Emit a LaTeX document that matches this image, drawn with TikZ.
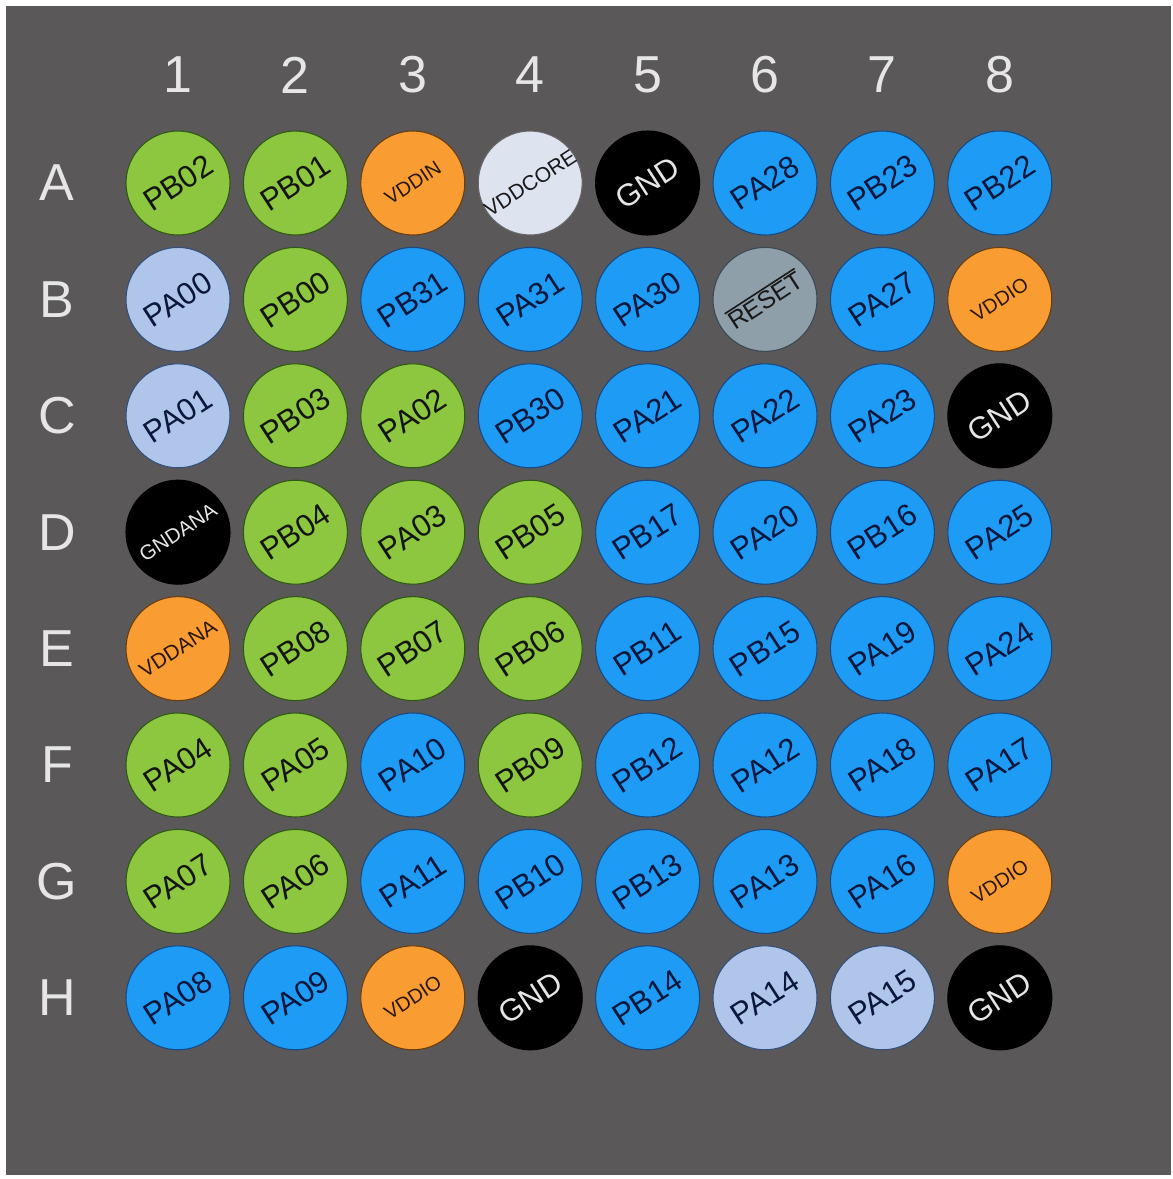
\documentclass[tikz,border=0pt]{standalone}
\usepackage{fontspec}
\setmainfont{Liberation Sans}
\definecolor{bgc}{HTML}{5B585A}
\definecolor{gfill}{HTML}{8DC63F}
\definecolor{gdraw}{HTML}{2F5A14}
\definecolor{bfill}{HTML}{1E9BF5}
\definecolor{bdraw}{HTML}{174A84}
\definecolor{btext}{HTML}{0A163A}
\definecolor{ofill}{HTML}{F99D33}
\definecolor{odraw}{HTML}{6A3E10}
\definecolor{otext}{HTML}{2A170A}
\definecolor{lfill}{HTML}{AFC6EA}
\definecolor{ldraw}{HTML}{34507A}
\definecolor{wfill}{HTML}{DDE3EF}
\definecolor{rfill}{HTML}{8E9FAA}
\definecolor{rdraw}{HTML}{3A4A55}
\definecolor{labc}{HTML}{E6E6E6}
\newcommand{\rstbar}[1]{\vbox{\hrule height 1.6pt\kern 2pt\hbox{#1}}}
\newcommand{\zw}[1]{\makebox[0pt]{#1}}
\tikzset{
  pin/.style={circle,minimum size=104pt,inner sep=0pt,line width=1.1pt,rotate=33,
    font=\fontsize{31}{31}\selectfont},
  pg/.style={pin,fill=gfill,draw=gdraw,text=black!92},
  pb/.style={pin,fill=bfill,draw=bdraw,text=btext},
  pl/.style={pin,fill=lfill,draw=ldraw,text=btext},
  pk/.style={pin,fill=black,draw=black,text=labc},
  po/.style={pin,fill=ofill,draw=odraw,text=otext,font=\fontsize{20}{20}\selectfont},
  pw/.style={pin,fill=wfill,draw=black!60,text=black!90,font=\fontsize{21}{21}\selectfont},
  pr/.style={pin,fill=rfill,draw=rdraw,text=black!90,font=\fontsize{25}{25}\selectfont},
  pkS/.style={pk,font=\fontsize{20.5}{20.5}\selectfont},
  poS/.style={po,font=\fontsize{21}{21}\selectfont},
  axislab/.style={text=labc,font=\fontsize{52}{52}\selectfont,inner sep=0pt}
}
\begin{document}
\begin{tikzpicture}[x=1pt,y=-1pt]
\useasboundingbox (0,0) rectangle (1173,1179);
\fill[white] (0,0) rectangle (1173,1179);
\fill[bgc] (6,6) rectangle (1171,1175);
\foreach \n [count=\i] in {1,...,8}
  \node[axislab] (col\n) at ({178+117.4*(\i-1)},75) {\n};
\foreach \r [count=\j] in {A,B,C,D,E,F,G,H}
  \node[axislab] (row\r) at (57,{183+116.4*(\j-1)}) {\r};
\foreach \t/\s [count=\i] in {PB02/pg,PB01/pg,VDDIN/po,{\zw{VDDCORE}}/pw,GND/pk,PA28/pb,PB23/pb,PB22/pb}
  \node[\s] (pinA\i) at ({178+117.4*(\i-1)},183) {\t};
\foreach \t/\s [count=\i] in {PA00/pl,PB00/pg,PB31/pb,PA31/pb,PA30/pb,{\rstbar{RESET}}/pr,PA27/pb,VDDIO/po}
  \node[\s] (pinB\i) at ({178+117.4*(\i-1)},299.4) {\t};
\foreach \t/\s [count=\i] in {PA01/pl,PB03/pg,PA02/pg,PB30/pb,PA21/pb,PA22/pb,PA23/pb,GND/pk}
  \node[\s] (pinC\i) at ({178+117.4*(\i-1)},415.8) {\t};
\foreach \t/\s [count=\i] in {GNDANA/pkS,PB04/pg,PA03/pg,PB05/pg,PB17/pb,PA20/pb,PB16/pb,PA25/pb}
  \node[\s] (pinD\i) at ({178+117.4*(\i-1)},532.2) {\t};
\foreach \t/\s [count=\i] in {VDDANA/poS,PB08/pg,PB07/pg,PB06/pg,PB11/pb,PB15/pb,PA19/pb,PA24/pb}
  \node[\s] (pinE\i) at ({178+117.4*(\i-1)},648.6) {\t};
\foreach \t/\s [count=\i] in {PA04/pg,PA05/pg,PA10/pb,PB09/pg,PB12/pb,PA12/pb,PA18/pb,PA17/pb}
  \node[\s] (pinF\i) at ({178+117.4*(\i-1)},765) {\t};
\foreach \t/\s [count=\i] in {PA07/pg,PA06/pg,PA11/pb,PB10/pb,PB13/pb,PA13/pb,PA16/pb,VDDIO/po}
  \node[\s] (pinG\i) at ({178+117.4*(\i-1)},881.4) {\t};
\foreach \t/\s [count=\i] in {PA08/pb,PA09/pb,VDDIO/po,GND/pk,PB14/pb,PA14/pl,PA15/pl,GND/pk}
  \node[\s] (pinH\i) at ({178+117.4*(\i-1)},997.8) {\t};
\end{tikzpicture}
\end{document}
